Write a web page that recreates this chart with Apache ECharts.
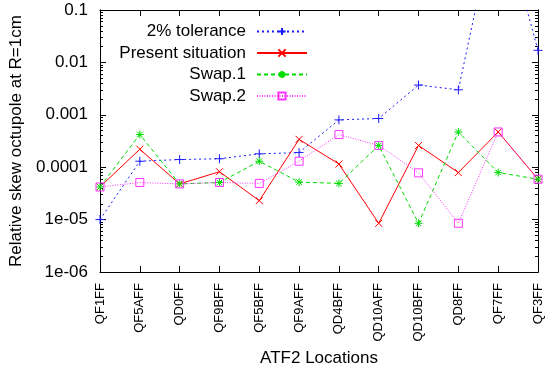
<!DOCTYPE html>
<html lang="en">
<head>
<meta charset="UTF-8">
<title>Relative skew octupole</title>
<style>html,body{margin:0;padding:0;background:#fff;}</style>
</head>
<body>
<div id="main" style="width:549px;height:370px;"></div>
<script src="https://cdn.jsdelivr.net/npm/echarts@6/dist/echarts.min.js"></script>
<script>
var locations = ['QF1FF', 'QF5AFF', 'QD0FF', 'QF9BFF', 'QF5BFF', 'QF9AFF', 'QD4BFF', 'QD10AFF', 'QD10BFF', 'QD8FF', 'QF7FF', 'QF3FF'];
var tolerance = [1.0e-5, 1.3e-4, 1.4e-4, 1.45e-4, 1.8e-4, 1.9e-4, 8.0e-4, 8.5e-4, 3.7e-3, 3.0e-3, 11, 0.017];
var present = [4.2e-5, 2.2e-4, 4.8e-5, 8.2e-5, 2.3e-5, 3.4e-4, 1.15e-4, 8.5e-6, 2.6e-4, 7.9e-5, 4.7e-4, 5.9e-5];
var swap1 = [4.2e-5, 4.2e-4, 4.8e-5, 5.1e-5, 1.3e-4, 5.2e-5, 4.9e-5, 2.6e-4, 8.5e-6, 4.7e-4, 7.9e-5, 5.9e-5];
var swap2 = [4.2e-5, 5.1e-5, 4.8e-5, 5.1e-5, 4.9e-5, 1.3e-4, 4.2e-4, 2.6e-4, 7.8e-5, 8.5e-6, 4.7e-4, 5.9e-5];
var yTicks = [1e-6, 1e-5, 1e-4, 1e-3, 1e-2, 1e-1];
var yTickLabels = ['1e-06', '1e-05', '0.0001', '0.001', '0.01', '0.1'];

var FONT = '"Liberation Sans", Arial, sans-serif';

// minor ticks 2..9 in each decade
var minorTicks = [];
for (var i = 0; i < yTicks.length - 1; i++) {
    for (var k = 2; k <= 9; k++) minorTicks.push(k * yTicks[i]);
}

var myChart = echarts.init(document.getElementById('main'));

function yLabel(v) {
    var e = Math.round(Math.log10(v));
    for (var i = 0; i < yTicks.length; i++) {
        if (Math.round(Math.log10(yTicks[i])) === e) return yTickLabels[i];
    }
    return '';
}

function yAxisDef(pos, ticks, len, withLabel) {
    var ax = {
        type: 'log',
        logBase: 10,
        min: 1e-6,
        max: 0.1,
        position: pos,
        axisLine: { show: true, lineStyle: { color: '#000', width: 1 } },
        axisTick: { show: true, inside: true, length: len, customValues: ticks, lineStyle: { color: '#000' } },
        axisLabel: { show: withLabel, customValues: yTicks, formatter: yLabel, fontSize: 17, fontFamily: FONT, color: '#000', margin: 12 },
        splitLine: { show: false },
        minorTick: { show: false }
    };
    if (withLabel) {
        ax.name = 'Relative skew octupole at R=1cm';
        ax.nameLocation = 'middle';
        ax.nameGap = 75;
        ax.nameTextStyle = { fontSize: 17, fontFamily: FONT, color: '#000' };
    }
    return ax;
}

var plusSym = 'path://M5,0L5,10M0,5L10,5';
var crossSym = 'path://M0,0L10,10M10,0L0,10';
var starSym = 'path://M5,0L5,10M0,5L10,5M1.5,1.5L8.5,8.5M8.5,1.5L1.5,8.5';
var squareSym = 'path://M0,0L10,0L10,10L0,10Z';

function lineSeries(name, data, color, dash, symbol, size) {
    return {
        name: name,
        type: 'line',
        data: data,
        xAxisIndex: 0,
        yAxisIndex: 0,
        color: color,
        symbol: symbol,
        symbolSize: size,
        showAllSymbol: true,
        clip: true,
        lineStyle: { color: color, width: 1, type: dash },
        itemStyle: { color: 'rgba(0,0,0,0)', borderColor: color, borderWidth: 1 },
        emphasis: { disabled: true }
    };
}

var option = {
    animation: false,
    backgroundColor: '#fff',
    textStyle: { fontFamily: FONT, color: '#000' },
    grid: { left: 100, right: 11, top: 10, bottom: 98, containLabel: false, outerBoundsMode: 'none' },
    legend: {
        orient: 'vertical',
        align: 'right',
        right: 241,
        top: 23,
        padding: 0,
        itemWidth: 50,
        itemHeight: 9,
        itemGap: 4.5,
        textStyle: { fontSize: 17, fontFamily: FONT, color: '#000', lineHeight: 17, padding: [0, 6, 0, 0] },
        data: ['2% tolerance', 'Present situation', 'Swap.1', 'Swap.2']
    },
    xAxis: [{
        type: 'category',
        data: locations,
        boundaryGap: false,
        position: 'bottom',
        axisLine: { lineStyle: { color: '#000', width: 1 } },
        axisTick: { inside: true, length: 6, interval: 0, lineStyle: { color: '#000' } },
        axisLabel: { rotate: 90, interval: 0, fontSize: 13, fontFamily: FONT, color: '#000', margin: 11 },
        splitLine: { show: false },
        name: 'ATF2 Locations',
        nameLocation: 'middle',
        nameGap: 73,
        nameTextStyle: { fontSize: 17, fontFamily: FONT, color: '#000' }
    }, {
        type: 'category',
        data: locations,
        boundaryGap: false,
        position: 'top',
        axisLine: { lineStyle: { color: '#000', width: 1 } },
        axisTick: { inside: true, length: 6, interval: 0, lineStyle: { color: '#000' } },
        axisLabel: { show: false },
        splitLine: { show: false }
    }],
    yAxis: [
        yAxisDef('left', yTicks, 6, true),
        yAxisDef('left', minorTicks, 3, false),
        yAxisDef('right', yTicks, 6, false),
        yAxisDef('right', minorTicks, 3, false)
    ],
    series: [
        lineSeries('2% tolerance', tolerance, '#1a1aff', [2, 3], plusSym, 9),
        lineSeries('Present situation', present, '#ff0000', 'solid', crossSym, 7),
        lineSeries('Swap.1', swap1, '#00dd00', [4, 3], starSym, 8),
        lineSeries('Swap.2', swap2, '#ff33ff', [1, 1.5], squareSym, 8)
    ]
};

myChart.setOption(option);
</script>
</body>
</html>
